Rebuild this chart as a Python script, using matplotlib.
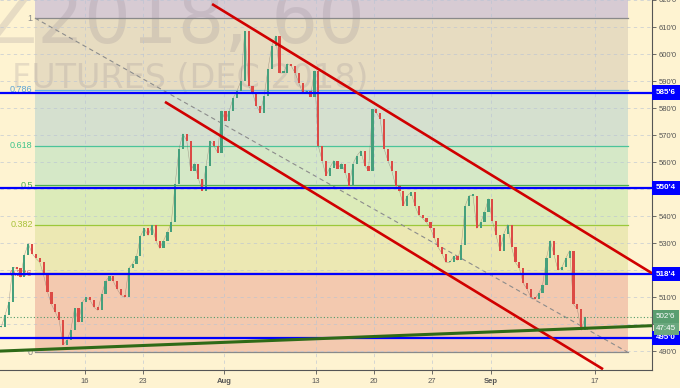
import matplotlib
matplotlib.use('Agg')
import matplotlib.pyplot as plt
import numpy as np
from matplotlib.transforms import blended_transform_factory

# ---------------- data ----------------
closes = [
    498.9, 503.4, 508.2, 521.1, 520.7, 517.4, 525.5, 529.9, 526.2, 524.4,
    522.9, 518.1, 511.9, 507.4, 504.5, 501.5, 492.3, 494.1, 497.8, 506.0,
    500.8, 508.2, 510.0, 508.9, 506.3, 505.2, 511.1, 515.9, 517.8, 515.9,
    513.0, 510.7, 510.0, 520.7, 522.5, 525.1, 532.5, 535.5, 532.9, 536.6,
    531.0, 528.1, 531.0, 534.0, 537.7, 552.1, 565.0, 570.5, 567.9, 556.9,
    559.5, 553.9, 549.5, 558.7, 567.9, 566.1, 563.5, 579.0, 575.3, 579.0,
    583.8, 586.4, 590.1, 608.5, 588.2, 585.7, 580.9, 578.3, 584.5, 594.5,
    603.0, 606.7, 593.0, 593.0, 596.4, 595.6, 593.0, 589.3, 585.3, 586.4,
    584.2, 593.8, 566.1, 560.6, 555.0, 558.0, 560.6, 557.6, 559.5, 556.1,
    551.3, 559.5, 562.4, 564.2, 558.7, 556.9, 579.7, 578.3, 576.1, 565.0,
    560.6, 556.9, 551.3, 549.5, 543.9, 547.6, 548.8, 543.9, 540.3, 539.2,
    537.7, 535.5, 532.1, 528.5, 526.2, 522.9, 522.9, 525.1, 523.7, 529.2,
    543.9, 547.6, 547.6, 535.5, 537.7, 541.4, 546.5, 538.4, 532.9, 527.3,
    533.6, 536.9, 528.5, 522.9, 520.7, 515.2, 513.0, 510.0, 509.3, 511.5,
    514.4, 524.4, 531.0, 525.5, 520.0, 521.1, 524.4, 527.3, 507.4, 505.6,
    497.8, 502.75,
]
bars_per_day = 3

xtick_pos = [7.33, 12.33, 19.31, 27.24, 32.24, 37.24, 42.33, 51.29]
xtick_labels = ['16', '23', 'Aug', '13', '20', '27', 'Sep', '17']

price_ticks = [490, 500, 510, 520, 530, 540, 550, 560, 570, 580, 590, 600, 610, 620]
price_tick_labels = ["490'0", "", "510'0", "", "530'0", "540'0", "", "560'0",
                     "570'0", "580'0", "590'0", "600'0", "610'0", "620'0"]

fib_levels = [0, 0.236, 0.382, 0.5, 0.618, 0.786, 1]
fib_labels = ['0', '0.236', '0.382', '0.5', '0.618', '0.786', '1']
fib_low, fib_high = 489.7, 613.3
fib_start, fib_end = 3.02, 54.1

key_levels = [585.75, 550.5, 518.5, 495.0]
key_labels = ["585'6", "550'4", "518'4", "495'0"]

last_price = 502.75
last_label = "502'6"
countdown_label = "47:45"

channel_upper_x = [18.28, 56.2]
channel_upper_y = [618.5, 518.9]
channel_lower_x = [14.22, 51.98]
channel_lower_y = [582.3, 483.4]
support_x = [0.0, 56.2]
support_y = [490.1, 499.5]

# ---------------- styling ----------------
BG = '#fef3d1'
fib_line_colors = ['#8a8a8a', '#f05050', '#9cc83a', '#4caf50', '#4cc49a', '#6ab0e0', '#8a8a8a']
fib_label_colors = ['#8a8a8a', '#e05555', '#a8c23a', '#4caf50', '#3ec48a', '#5ba3d6', '#8a8a8a']
fib_fill_colors = ['#f3c9af', '#ece8b3', '#dcebb9', '#d5e8c7', '#d5e0cf', '#e7dcc1']
top_fill = '#d7cbd3'

fig = plt.figure(figsize=(6.8, 3.88), dpi=100, facecolor=BG)
ax = fig.add_axes([0, 18 / 388, 652 / 680, 370 / 388])
ax.set_facecolor(BG)
ax.set_xlim(0, 56.2)
ax.set_ylim(483.1, 619.6)

# fib zones
prices = [fib_low + lv * (fib_high - fib_low) for lv in fib_levels]
for i in range(len(prices) - 1):
    ax.fill_between([fib_start, fib_end], prices[i], prices[i + 1],
                    color=fib_fill_colors[i], lw=0, zorder=0.5)
ax.fill_between([fib_start, fib_end], prices[-1], 640, color=top_fill, lw=0, zorder=0.5)
for p, lc, lab, tc in zip(prices, fib_line_colors, fib_labels, fib_label_colors):
    ax.plot([fib_start, fib_end], [p, p], color=lc, lw=0.9, zorder=1.6)
    ax.text(fib_start - 0.2, p, lab, color=tc, fontsize=6.5, ha='right', va='center',
            family='Liberation Sans', zorder=1.7)
ax.plot([fib_start, fib_end], [fib_high, fib_low], color='#8c8c8c', lw=0.8,
        ls=(0, (4, 3)), zorder=1.8)

# watermark
ax.text(365 / 680, 1 - 43 / 388, 'ZCZ2018, 60', transform=fig.transFigure,
        fontsize=53, color='#8a7f8c', alpha=0.2, ha='right', va='baseline',
        zorder=1.2, clip_on=False)
ax.text(12 / 680, 1 - 88 / 388, 'FUTURES (DEC 2018)', transform=fig.transFigure,
        fontsize=24, color='#8a7f8c', alpha=0.2, ha='left', va='baseline',
        zorder=1.2, clip_on=False)

# grid
ax.set_xticks(xtick_pos)
ax.set_xticklabels(xtick_labels)
ax.set_yticks(price_ticks)
ax.set_yticklabels(price_tick_labels)
ax.grid(True, color='#b9c3d4', lw=0.6, ls=(0, (4, 4)), alpha=0.7, zorder=1.5)
ax.set_axisbelow(False)
for gl in ax.get_xgridlines() + ax.get_ygridlines():
    gl.set_zorder(1.5)

# candles
x = np.arange(len(closes)) / bars_per_day + 0.1
opens = [closes[0]] + closes[:-1]
for xi, o, c in zip(x, opens, closes):
    col = '#45a07c' if c >= o else '#dc4a45'
    h = c - o
    if abs(h) < 0.6:
        h = 0.6 if h >= 0 else -0.6
    ax.bar(xi, h, bottom=o, width=0.19, color=col, lw=0, zorder=3)
ax.plot(x, closes, color='#7a6a60', lw=0.35, alpha=0.6, zorder=2.9)

# last price dotted
ax.axhline(last_price, color='#4f9a6a', lw=0.8, ls=(0, (1, 2)), zorder=2)

# key blue levels
for lv in key_levels:
    ax.axhline(lv, color='#0000ff', lw=1.6, zorder=4)

# trend / channel lines
ax.plot(channel_upper_x, channel_upper_y, color='#d00000', lw=1.9, zorder=5, solid_capstyle='butt')
ax.plot(channel_lower_x, channel_lower_y, color='#d00000', lw=1.9, zorder=5, solid_capstyle='butt')
ax.plot(support_x, support_y, color='#2e6a17', lw=2.2, zorder=5)

# spines & ticks
for s in ['top', 'left']:
    ax.spines[s].set_visible(False)
for s in ['right', 'bottom']:
    ax.spines[s].set_color('#555555')
    ax.spines[s].set_linewidth(0.8)
ax.yaxis.tick_right()
ax.tick_params(axis='y', labelsize=5.5, colors='#555555', length=3, width=0.6, pad=2)
ax.tick_params(axis='x', labelsize=5.5, colors='#555555', length=3, width=0.6, pad=3)
for lab in ax.get_xticklabels():
    lab.set_family('Liberation Sans')
    if lab.get_text() in ('Aug', 'Sep'):
        lab.set_fontweight('bold')
for lab in ax.get_yticklabels():
    lab.set_family('Liberation Sans')

# right-side labels
tr = blended_transform_factory(ax.transAxes, ax.transData)
for lv, lab in zip(key_levels, key_labels):
    ax.text(1 + 4 / 652, lv, lab, transform=tr, color='white', fontsize=5.8,
            fontweight='bold', family='Liberation Sans', ha='left', va='center',
            bbox=dict(boxstyle='square,pad=0.45', fc='#0000ff', ec='none'),
            clip_on=False, zorder=6)
ax.text(1 + 4 / 652, last_price, last_label, transform=tr, color='white', fontsize=5.8,
        family='Liberation Sans', ha='left', va='center',
        bbox=dict(boxstyle='square,pad=0.4', fc='#5a9e70', ec='none'),
        clip_on=False, zorder=6)
ax.text(1 + 4 / 652, 498.4, countdown_label, transform=tr, color='white', fontsize=5.8,
        family='Liberation Sans', ha='left', va='center',
        bbox=dict(boxstyle='square,pad=0.3', fc='#6aa87e', ec='none'),
        clip_on=False, zorder=6)

fig.savefig('out.png', dpi=100, facecolor=BG)
